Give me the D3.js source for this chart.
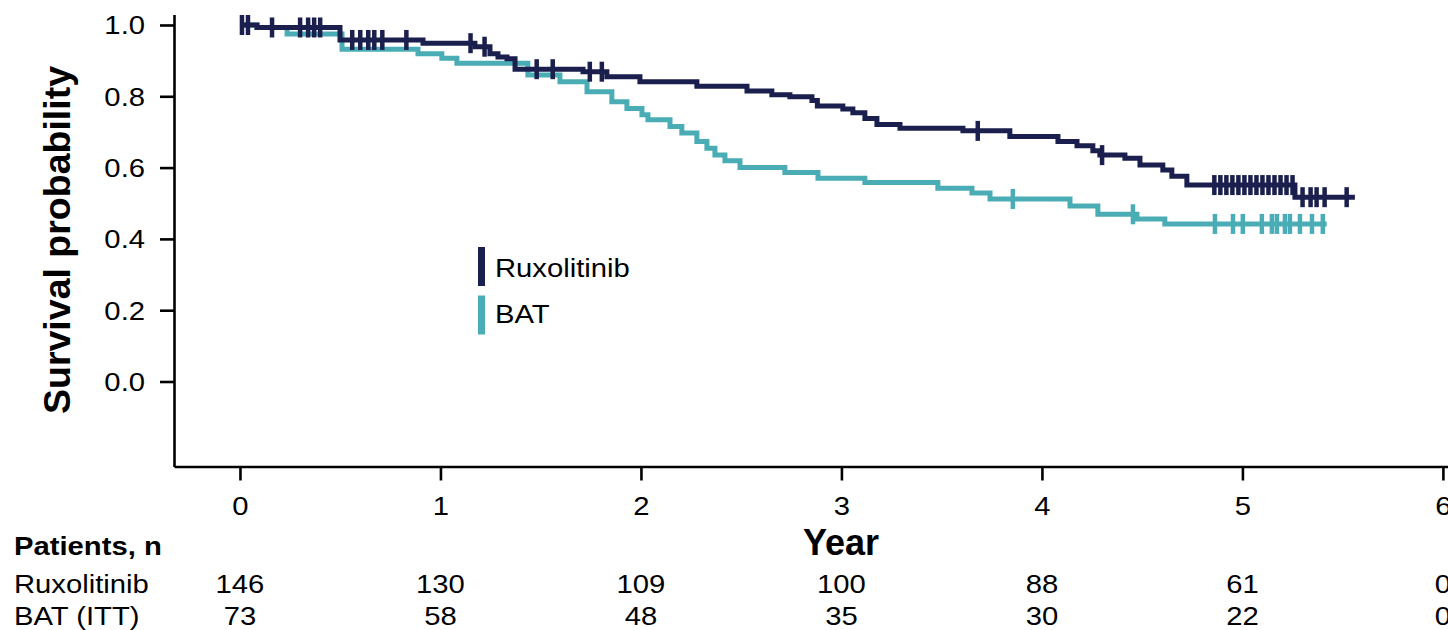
<!DOCTYPE html>
<html>
<head>
<meta charset="utf-8">
<script src="https://cdn.jsdelivr.net/npm/d3@7"></script>
<style>
  html, body { margin: 0; padding: 0; background: #ffffff; }
  svg { display: block; }
  text { font-family: "Liberation Sans", Arial, Helvetica, sans-serif; fill: #000; }
</style>
</head>
<body>
<svg id="chart" width="1448" height="630"></svg>
<script>
// ---------- data ----------
const yearTicks = [0, 1, 2, 3, 4, 5, 6];
const probTicks = [0, 0.2, 0.4, 0.6, 0.8, 1.0];

const seriesNames = ["Ruxolitinib", "BAT"];
const riskRowLabels = ["Ruxolitinib", "BAT (ITT)"];
const ruxAtRisk = [146, 130, 109, 100, 88, 61, 0];
const batAtRisk = [73, 58, 48, 35, 30, 22, 0];

const ruxTimes = [0, 0.085, 0.499, 0.913, 1.172, 1.247, 1.287, 1.332, 1.372, 1.711, 1.830, 1.995, 2.279, 2.529, 2.653, 2.743, 2.853, 2.880, 3.007, 3.057, 3.117, 3.177, 3.292, 3.606, 3.840, 4.080, 4.175, 4.254, 4.289, 4.414, 4.489, 4.603, 4.648, 4.723, 5.262, 5.561];
const ruxSurv  = [1.000, 0.993, 0.958, 0.949, 0.939, 0.919, 0.910, 0.905, 0.876, 0.869, 0.855, 0.841, 0.828, 0.815, 0.804, 0.799, 0.788, 0.773, 0.764, 0.754, 0.738, 0.721, 0.710, 0.703, 0.687, 0.673, 0.661, 0.647, 0.635, 0.626, 0.607, 0.593, 0.576, 0.551, 0.517, 0.517];
const ruxCensor = [0.01, 0.04, 0.16, 0.30, 0.34, 0.37, 0.40, 0.56, 0.60, 0.64, 0.67, 0.71, 0.83, 1.15, 1.22, 1.48, 1.56, 1.745, 1.805, 3.68, 4.30, 4.86, 4.89, 4.92, 4.95, 4.98, 5.01, 5.04, 5.07, 5.10, 5.13, 5.16, 5.19, 5.22, 5.25, 5.30, 5.34, 5.37, 5.41, 5.52];

const batTimes = [0, 0.085, 0.235, 0.509, 0.888, 1.007, 1.082, 1.436, 1.596, 1.731, 1.855, 1.930, 2.005, 2.035, 2.145, 2.204, 2.279, 2.329, 2.369, 2.419, 2.494, 2.718, 2.883, 3.117, 3.481, 3.651, 3.741, 4.140, 4.279, 4.474, 4.613, 5.420];
const batSurv  = [1.000, 0.993, 0.975, 0.932, 0.919, 0.907, 0.893, 0.860, 0.841, 0.813, 0.785, 0.766, 0.748, 0.734, 0.715, 0.697, 0.673, 0.654, 0.635, 0.619, 0.600, 0.586, 0.570, 0.558, 0.542, 0.529, 0.512, 0.492, 0.469, 0.456, 0.442, 0.442];
const batCensor = [3.855, 4.454, 4.863, 4.953, 5.002, 5.097, 5.147, 5.172, 5.212, 5.237, 5.287, 5.347, 5.401];

// ---------- style ----------
const NAVY = "#1b1f4e";
const TEAL = "#4aadb5";
const SX = 1.17;          // horizontal stretch of regular text
const FS = 25;            // regular font size

const svg = d3.select("#chart");

const x = d3.scaleLinear().domain([-0.329, 6.2]).range([174, 1483]);
const y = d3.scaleLinear().domain([-0.2384, 1.0294]).range([466.5, 14.5]);

// ---------- axes ----------
const yAxis = d3.axisLeft(y).tickValues(probTicks).tickFormat(d3.format(".1f"))
  .tickSize(14).tickSizeOuter(0).tickPadding(0);
const gy = svg.append("g").attr("transform", "translate(174,0)").call(yAxis);
gy.select(".domain").attr("stroke", "#000").attr("stroke-width", 2.6);
gy.selectAll(".tick line").attr("stroke", "#000").attr("stroke-width", 2.6);
gy.selectAll(".tick text")
  .attr("x", -29 / SX).attr("dy", "0.36em")
  .attr("transform", `scale(${SX},1)`)
  .style("font-size", FS + "px");

const xAxis = d3.axisBottom(x).tickValues(yearTicks).tickFormat(d3.format("d"))
  .tickSize(14).tickSizeOuter(0).tickPadding(0);
const gx = svg.append("g").attr("transform", "translate(0,466.5)").call(xAxis);
gx.select(".domain").attr("stroke", "#000").attr("stroke-width", 2.6);
gx.selectAll(".tick line").attr("stroke", "#000").attr("stroke-width", 2.6);
gx.selectAll(".tick text")
  .attr("x", 0).attr("y", 48.5).attr("dy", 0)
  .attr("transform", `scale(${SX},1)`)
  .style("font-size", FS + "px");

// axis titles
svg.append("text")
  .attr("transform", "translate(841,555)")
  .attr("text-anchor", "middle")
  .style("font-size", "36px").style("font-weight", "bold")
  .text("Year");

svg.append("text")
  .attr("transform", "translate(70,240) rotate(-90)")
  .attr("text-anchor", "middle")
  .style("font-size", "37.5px").style("font-weight", "bold")
  .text("Survival probability");

// ---------- KM curves ----------
function survAt(times, vals, t) {
  let v = vals[0];
  for (let i = 0; i < times.length; i++) { if (times[i] <= t) v = vals[i]; }
  return v;
}
const line = d3.line().x(d => x(d[0])).y(d => y(d[1])).curve(d3.curveStepAfter);

const series = [
  { name: seriesNames[1], times: batTimes, vals: batSurv, cens: batCensor, color: TEAL },
  { name: seriesNames[0], times: ruxTimes, vals: ruxSurv, cens: ruxCensor, color: NAVY }
];

series.forEach(s => {
  const pts = s.times.map((t, i) => [t, s.vals[i]]);
  svg.append("path").datum(pts)
    .attr("d", line)
    .attr("fill", "none")
    .attr("stroke", s.color)
    .attr("stroke-width", 5)
    .attr("stroke-linejoin", "miter");
  svg.append("g").selectAll("line").data(s.cens).join("line")
    .attr("x1", d => x(d)).attr("x2", d => x(d))
    .attr("y1", d => y(survAt(s.times, s.vals, d)) - 10)
    .attr("y2", d => y(survAt(s.times, s.vals, d)) + 10)
    .attr("stroke", s.color).attr("stroke-width", 4.5);
});

// ---------- legend ----------
const legend = [
  { label: seriesNames[0], color: NAVY, top: 247, base: 277 },
  { label: seriesNames[1], color: TEAL, top: 295.5, base: 323 }
];
legend.forEach(l => {
  svg.append("rect").attr("x", 478).attr("y", l.top).attr("width", 7).attr("height", 39)
    .attr("fill", l.color);
  svg.append("text")
    .attr("transform", `translate(495,${l.base}) scale(${SX},1)`)
    .style("font-size", FS + "px")
    .text(l.label);
});

// ---------- risk table ----------
svg.append("text")
  .attr("transform", `translate(14,555) scale(${SX},1)`)
  .style("font-size", FS + "px").style("font-weight", "bold")
  .text("Patients, n");

const rows = [
  { label: riskRowLabels[0], vals: ruxAtRisk, base: 593 },
  { label: riskRowLabels[1], vals: batAtRisk, base: 625 }
];
rows.forEach(r => {
  svg.append("text")
    .attr("transform", `translate(14,${r.base}) scale(${SX},1)`)
    .style("font-size", FS + "px")
    .text(r.label);
  svg.append("g").selectAll("text").data(r.vals).join("text")
    .attr("transform", (d, i) => `translate(${x(yearTicks[i])},${r.base}) scale(${SX},1)`)
    .attr("text-anchor", "middle")
    .style("font-size", FS + "px")
    .text(d => d);
});
</script>
</body>
</html>
